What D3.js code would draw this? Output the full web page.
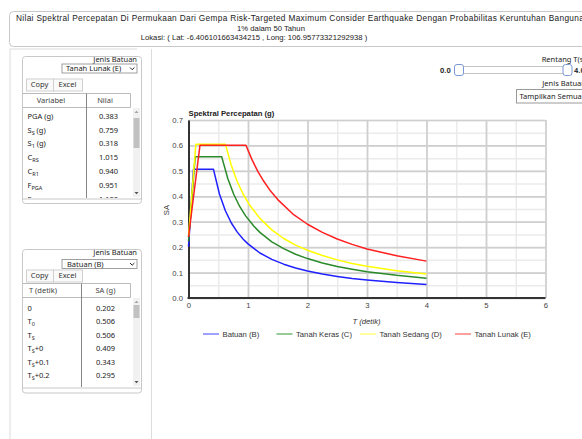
<!DOCTYPE html>
<html>
<head>
<meta charset="utf-8">
<script src="https://cdn.jsdelivr.net/npm/d3@7"></script>
<style>
  body { margin: 0; background: #fff; overflow: hidden; }
  svg { display: block; }
  .ui { font-family: "Noto Sans", "DejaVu Sans", sans-serif; font-size: 7.5px; fill: #222; }
  .ch { font-family: "Liberation Sans", Arial, sans-serif; font-size: 7.7px; fill: #333; }
</style>
</head>
<body>
<svg id="page" width="582" height="439"></svg>
<script>
// ---- data ----
const seriesNames = ["Batuan (B)", "Tanah Keras (C)", "Tanah Sedang (D)", "Tanah Lunak (E)"];
const seriesColors = ["#2020ff", "#2a8a2a", "#ffff00", "#ff2020"];
const legendColors = ["#8080ff", "#74b874", "#ffff80", "#ff8080"];

const tBatuan  = [0, 0.084, 0.42, 0.52, 0.62, 0.72, 0.82, 0.92, 1.0, 1.2, 1.4, 1.6, 1.8, 2.0, 2.25, 2.5, 2.75, 3.0, 3.5, 4.0];
const saBatuan = [0.202, 0.506, 0.506, 0.409, 0.343, 0.295, 0.259, 0.231, 0.213, 0.177, 0.152, 0.133, 0.118, 0.106, 0.094, 0.085, 0.077, 0.071, 0.061, 0.053];

const tKeras  = [0, 0.112, 0.559, 0.66, 0.76, 0.86, 0.96, 1.1, 1.2, 1.4, 1.6, 1.8, 2.0, 2.25, 2.5, 2.75, 3.0, 3.5, 4.0];
const saKeras = [0.222, 0.555, 0.555, 0.470, 0.408, 0.360, 0.323, 0.282, 0.258, 0.221, 0.194, 0.172, 0.155, 0.138, 0.124, 0.113, 0.103, 0.089, 0.078];

const tSedang  = [0, 0.124, 0.62, 0.72, 0.82, 0.92, 1.02, 1.2, 1.4, 1.6, 1.8, 2.0, 2.25, 2.5, 2.75, 3.0, 3.5, 4.0];
const saSedang = [0.242, 0.605, 0.605, 0.521, 0.457, 0.408, 0.368, 0.313, 0.268, 0.234, 0.208, 0.188, 0.167, 0.150, 0.136, 0.125, 0.107, 0.094];

const tLunak  = [0, 0.193, 0.965, 1.065, 1.165, 1.265, 1.365, 1.5, 1.75, 2.0, 2.25, 2.5, 2.75, 3.0, 3.5, 4.0];
const saLunak = [0.240, 0.601, 0.601, 0.545, 0.498, 0.459, 0.425, 0.387, 0.331, 0.290, 0.258, 0.232, 0.211, 0.193, 0.166, 0.145];

const xTicks = [0, 1, 2, 3, 4, 5, 6];
const yTicks = [0, 0.1, 0.2, 0.3, 0.4, 0.5, 0.6, 0.7];

// table labels: [base, subscript, suffix]
const varNames = [["PGA (g)", "", ""], ["S", "S", " (g)"], ["S", "1", " (g)"], ["C", "RS", ""], ["C", "R1", ""], ["F", "PGA", ""], ["F", "a", ""]];
const varValues = ["0.383", "0.759", "0.318", "1.015", "0.940", "0.951", "1.100"];
const periodNames = [["0", "", ""], ["T", "0", ""], ["T", "S", ""], ["T", "S", "+0"], ["T", "S", "+0.1"], ["T", "S", "+0.2"], ["T", "S", "+0.3"]];
const periodValues = ["0.202", "0.506", "0.506", "0.409", "0.343", "0.295", "0.259"];

const titleLines = [
  "Nilai Spektral Percepatan Di Permukaan Dari Gempa Risk-Targeted Maximum Consider Earthquake Dengan Probabilitas Keruntuhan Bangunan",
  "1% dalam 50 Tahun",
  "Lokasi: ( Lat: -6.406101663434215 , Long: 106.95773321292938 )"
];

const svg = d3.select("#page");

// ---- title box ----
svg.append("rect")
  .attr("x", 9.5).attr("y", 11.5).attr("width", 640).attr("height", 35).attr("rx", 4)
  .attr("fill", "#fff").attr("stroke", "#c8c8c8");

svg.append("text").attr("class", "ch").attr("x", 16).attr("y", 21)
  .style("fill", "#222").style("font-size", "8.3px").style("letter-spacing", "0.33px").text(titleLines[0]);
svg.append("text").attr("class", "ch").attr("x", 271).attr("y", 30.5).attr("text-anchor", "middle").style("fill", "#222").text(titleLines[1]);
svg.append("text").attr("class", "ch").attr("x", 254).attr("y", 40).attr("text-anchor", "middle").style("fill", "#222").text(titleLines[2]);

// left column borders
svg.append("path").attr("d", "M10,49H137 M10,49V439 M151.5,49V439")
  .attr("fill", "none").attr("stroke", "#dcdcdc");

// ---- tables ----
function subLabel(sel, parts){
  sel.append("tspan").text(parts[0]);
  if(parts[1]) sel.append("tspan").attr("dy", 2).style("font-size", "5.5px").text(parts[1]);
  if(parts[2]) sel.append("tspan").attr("dy", parts[1] ? -2 : 0).text(parts[2]);
}

function drawTable(o){
  const g = svg.append("g");

  g.append("rect").attr("x", 22.5).attr("y", o.top).attr("width", 119).attr("height", o.bottom - o.top)
    .attr("rx", 3).attr("fill", "#fff").attr("stroke", "#c8c8c8");

  g.append("text").attr("class", "ui").attr("x", 137).attr("y", o.top + 5.5)
    .attr("text-anchor", "end").text("Jenis Batuan");

  g.append("rect").attr("x", o.selX).attr("y", o.selY).attr("width", 137 - o.selX).attr("height", 9)
    .attr("fill", "#fff").attr("stroke", "#888").attr("stroke-width", 0.8);
  g.append("text").attr("class", "ui").attr("x", o.selX + o.selPad).attr("y", o.selY + 7).text(o.selText);
  g.append("path").attr("d", `M130,${o.selY + 3.5}l2.2,2.2l2.2,-2.2`)
    .attr("fill", "none").attr("stroke", "#222").attr("stroke-width", 1);

  // copy / excel buttons
  [["Copy", 26, 27], ["Excel", 53, 29]].forEach(([label, bx, bw]) => {
    g.append("rect").attr("x", bx + 0.5).attr("y", o.btnY + 0.5).attr("width", bw).attr("height", 12)
      .attr("fill", "#fafafa").attr("stroke", "#d0d0d0");
    g.append("text").attr("class", "ui").attr("x", bx + bw / 2).attr("y", o.btnY + 8.5)
      .attr("text-anchor", "middle").style("fill", "#333").text(label);
  });

  // header
  g.append("path").attr("d", `M22.5,${o.headTop}H130.5V${o.headBottom} M22.5,${o.headBottom}H130.5`)
    .attr("fill", "none").attr("stroke", "#bbb");
  g.append("text").attr("class", "ui").attr("x", o.h1x).attr("y", o.headTop + 9.5)
    .attr("text-anchor", "middle").style("fill", "#444").text(o.head1);
  g.append("text").attr("class", "ui").attr("x", o.h2x).attr("y", o.headTop + 9.5)
    .attr("text-anchor", "middle").style("fill", "#444").text(o.head2);
  g.append("line").attr("x1", o.divX).attr("x2", o.divX).attr("y1", o.headTop).attr("y2", o.clipBottom)
    .attr("stroke", "#888");

  // rows, clipped by the scroll area
  const clipId = "clip" + o.top;
  g.append("clipPath").attr("id", clipId).append("rect")
    .attr("x", 22).attr("y", o.headBottom + 0.5).attr("width", 110).attr("height", o.clipBottom - o.headBottom - 0.5);
  const rows = g.append("g").attr("clip-path", `url(#${clipId})`);
  const rowY = d3.scaleLinear().domain([0, 1]).range([o.rowStart, o.rowStart + o.rowStep]);

  rows.selectAll("text.name").data(o.names).enter().append("text")
    .attr("class", "ui name").attr("x", 27.5).attr("y", (d, i) => rowY(i) + 2.6)
    .each(function(d){ subLabel(d3.select(this), d); });

  rows.selectAll("text.val").data(o.values).enter().append("text")
    .attr("class", "ui val").attr("x", o.valX).attr("y", (d, i) => rowY(i) + 2.6)
    .attr("text-anchor", "middle").text(d => d);

  // scrollbar
  g.append("rect").attr("x", 133).attr("y", o.scrollTop).attr("width", 7).attr("height", o.clipBottom - o.scrollTop - 1)
    .attr("fill", "#f1f1f1");
  g.append("rect").attr("x", 133.5).attr("y", o.thumbTop).attr("width", 6).attr("height", o.thumbH)
    .attr("fill", "#c1c1c1");
  g.append("path").attr("d", `M134.5,${o.scrollTop + 5}l2,-2.2l2,2.2Z`)
    .attr("fill", "#a3a3a3");
  g.append("path").attr("d", `M134.5,${o.clipBottom - 6}l2,2.2l2,-2.2Z`).attr("fill", "#505050");

  // footer line
  g.append("line").attr("x1", 22.5).attr("x2", 141.5).attr("y1", o.clipBottom + 1).attr("y2", o.clipBottom + 1)
    .attr("stroke", "#c8c8c8");
}

drawTable({
  top: 56.5, bottom: 203.5, selX: 62, selY: 64, selPad: 4, selText: "Tanah Lunak (E)", btnY: 78.5,
  headTop: 93.5, headBottom: 107.5, head1: "Variabel", head2: "Nilai", h1x: 51, h2x: 105, divX: 86.5,
  names: varNames, values: varValues, valX: 108.5, rowStart: 116, rowStep: 13.9,
  clipBottom: 198, scrollTop: 108, thumbTop: 118, thumbH: 30
});

drawTable({
  top: 249.5, bottom: 393, selX: 62, selY: 259.5, selPad: 5, selText: "Batuan (B)", btnY: 269.5,
  headTop: 283.5, headBottom: 297.5, head1: "T (detik)", head2: "SA (g)", h1x: 43, h2x: 105.5, divX: 81.5,
  names: periodNames, values: periodValues, valX: 105.5, rowStart: 308, rowStep: 13.5,
  clipBottom: 387, scrollTop: 298, thumbTop: 305, thumbH: 13
});

// ---- right controls (cut by the window edge, as in the page) ----
svg.append("text").attr("class", "ui").attr("x", 541.7).attr("y", 62).text("Rentang T(s)");
svg.append("text").attr("class", "ui").attr("x", 440).attr("y", 73).style("font-weight", "bold").style("fill", "#333").text("0.0");
svg.append("text").attr("class", "ui").attr("x", 574).attr("y", 73).style("font-weight", "bold").style("fill", "#333").text("4.0");
svg.append("rect").attr("x", 458.5).attr("y", 66.5).attr("width", 109).attr("height", 7).attr("rx", 2)
  .attr("fill", "#fff").attr("stroke", "#c5c5c5");
[454.5, 563].forEach(hx => {
  svg.append("rect").attr("x", hx).attr("y", 64.5).attr("width", 9).attr("height", 11).attr("rx", 2.5)
    .attr("fill", "#fff").attr("stroke", "#7b98d6");
});
svg.append("text").attr("class", "ui").attr("x", 542.3).attr("y", 86).text("Jenis Batuan");
svg.append("rect").attr("x", 516.5).attr("y", 89.5).attr("width", 90).attr("height", 13.5)
  .attr("fill", "#fff").attr("stroke", "#999");
svg.append("text").attr("class", "ui").attr("x", 519.5).attr("y", 99).text("Tampilkan Semua");

// ---- chart ----
const x = d3.scaleLinear().domain([0, 6]).range([188.5, 545.5]);
const y = d3.scaleLinear().domain([0, 0.7]).range([298, 120]);

const chart = svg.append("g");

// minor grid
chart.append("g")
  .attr("transform", `translate(0, 298)`)
  .call(d3.axisBottom(x).ticks(12).tickFormat("").tickSize(-178))
  .call(a => a.selectAll(".tick line").attr("stroke", "#ebebeb").attr("stroke-width", 1.5))
  .call(a => a.select(".domain").remove());
chart.append("g")
  .attr("transform", `translate(188.5, 0)`)
  .call(d3.axisLeft(y).ticks(14).tickFormat("").tickSize(-357))
  .call(a => a.selectAll(".tick line").attr("stroke", "#ebebeb").attr("stroke-width", 1.5))
  .call(a => a.select(".domain").remove());

// major grid
chart.append("g")
  .attr("transform", `translate(0, 298)`)
  .call(d3.axisBottom(x).tickValues(xTicks).tickFormat("").tickSize(-178))
  .call(a => a.selectAll(".tick line").attr("stroke", "#cfcfcf").attr("stroke-width", 1.7))
  .call(a => a.select(".domain").remove());
chart.append("g")
  .attr("transform", `translate(188.5, 0)`)
  .call(d3.axisLeft(y).tickValues(yTicks).tickFormat("").tickSize(-357))
  .call(a => a.selectAll(".tick line").attr("stroke", "#cfcfcf").attr("stroke-width", 1.7))
  .call(a => a.select(".domain").remove());

// axes
const xAxis = chart.append("g")
  .attr("transform", `translate(0, 298)`)
  .call(d3.axisBottom(x).tickValues(xTicks).tickFormat(d3.format("d")).tickSize(0).tickPadding(5));
const yAxis = chart.append("g")
  .attr("transform", `translate(188.5, 0)`)
  .call(d3.axisLeft(y).tickValues(yTicks).tickFormat(d3.format(".1f")).tickSize(0).tickPadding(5.5));

[xAxis, yAxis].forEach(a => {
  a.select(".domain").attr("stroke", "#333").attr("stroke-width", 2);
  a.selectAll("text").attr("class", "ch").attr("font-family", null).attr("font-size", null).style("fill", "#444");
});
xAxis.select(".domain").attr("d", "M187.5,0H545.5");

chart.append("text").attr("class", "ch").attr("x", 188.5).attr("y", 116)
  .style("font-weight", "bold").style("fill", "#222").text("Spektral Percepatan (g)");
chart.append("text").attr("class", "ch").attr("transform", "translate(168.5,210) rotate(-90)")
  .attr("text-anchor", "middle").style("fill", "#333").text("SA");
chart.append("text").attr("class", "ch").attr("x", 366.5).attr("y", 324)
  .attr("text-anchor", "middle").style("font-style", "italic").style("fill", "#333").text("T (detik)");

// curves
const seriesData = [[tBatuan, saBatuan], [tKeras, saKeras], [tSedang, saSedang], [tLunak, saLunak]]
  .map(([ts, sas], i) => ({ name: seriesNames[i], points: ts.map((t, j) => ({ t: t, sa: sas[j] })) }));

const line = d3.line().x(d => x(d.t)).y(d => y(d.sa));

chart.append("g").selectAll("path")
  .data(seriesData)
  .enter().append("path")
    .attr("fill", "none")
    .attr("stroke", (d, i) => seriesColors[i])
    .attr("stroke-width", 1.5)
    .attr("stroke-linejoin", "round")
    .attr("d", d => line(d.points));

// legend
const legendX = [203, 276.5, 360, 455];
const legend = chart.append("g").selectAll("g")
  .data(seriesNames)
  .enter().append("g")
    .attr("transform", (d, i) => `translate(${legendX[i]}, 334)`);
legend.append("line").attr("x1", 0).attr("x2", 16).attr("stroke", (d, i) => legendColors[i]).attr("stroke-width", 1.5);
legend.append("text").attr("class", "ch").attr("x", 19.5).attr("y", 2.7).style("fill", "#333").text(d => d);
</script>
</body>
</html>
